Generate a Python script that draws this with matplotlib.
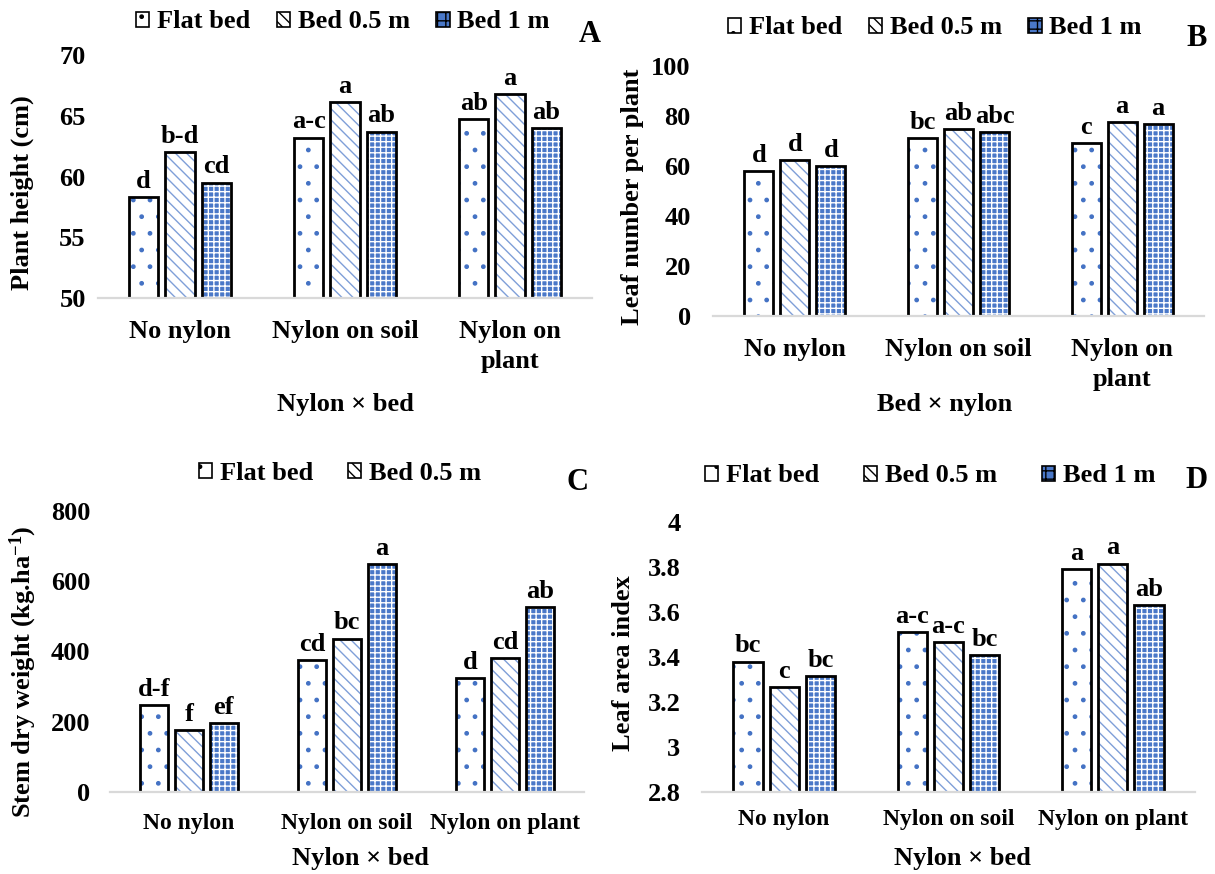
import numpy as np
import matplotlib
matplotlib.use("Agg")
import matplotlib.pyplot as plt
from matplotlib.patches import Patch

plt.rcParams['font.family'] = ['Liberation Serif', 'DejaVu Serif']
plt.rcParams['font.weight'] = 'bold'
plt.rcParams['mathtext.fontset'] = 'custom'
plt.rcParams['mathtext.rm'] = 'Liberation Serif:bold'
plt.rcParams['mathtext.bf'] = 'Liberation Serif:bold'
plt.rcParams['mathtext.it'] = 'Liberation Serif:bold:italic'

# data
series = ['Flat bed', 'Bed 0.5 m', 'Bed 1 m']
cats_wrap = ['No nylon', 'Nylon on soil', 'Nylon on\nplant']
cats_line = ['No nylon', 'Nylon on soil', 'Nylon on plant']

height_vals = [[58.3, 63.2, 64.7], [62.0, 66.1, 66.8], [59.5, 63.7, 64.0]]
height_lbls = [['d', 'a-c', 'ab'], ['b-d', 'a', 'a'], ['cd', 'ab', 'ab']]

leaf_vals = [[58.0, 71.3, 69.3], [62.2, 74.8, 77.6], [59.8, 73.5, 76.7]]
leaf_lbls = [['d', 'bc', 'c'], ['d', 'ab', 'a'], ['d', 'abc', 'a']]

stem_vals = [[248, 376, 324], [176, 437, 382], [197, 648, 527]]
stem_lbls = [['d-f', 'cd', 'd'], ['f', 'bc', 'cd'], ['ef', 'a', 'ab']]

lai_vals = [[3.38, 3.51, 3.79], [3.265, 3.465, 3.815], [3.315, 3.41, 3.63]]
lai_lbls = [['bc', 'a-c', 'a'], ['c', 'a-c', 'a'], ['bc', 'bc', 'ab']]

W, H = 1215, 874
FS = 19
BLUE = '#4472C4'

fig = plt.figure(figsize=(W / 100, H / 100), dpi=100)


def box(l, r, top, bottom):
    return [l / W, 1 - bottom / H, (r - l) / W, (bottom - top) / H]


def draw_bars(ax, x, vals, k):
    if k == 0:
        ax.bar(x, vals, 0.177, color='white', edgecolor=BLUE, hatch='.', linewidth=0)
    elif k == 1:
        ax.bar(x, vals, 0.177, color='white', edgecolor='#7F9FD8', hatch='\\\\\\', linewidth=0)
    else:
        ax.bar(x, vals, 0.177, color='#4A78C8', edgecolor='white', hatch='+++', linewidth=0)
    ax.bar(x, vals, 0.177, fill=False, edgecolor='black', linewidth=2)


def panel(rect, vals, lbls, cats, ylim, yticks, ylabs, ypad, xpad, xfs):
    ax = fig.add_axes(rect)
    x = np.arange(len(cats))
    for k in range(3):
        xs = x + (k - 1) * 0.22
        draw_bars(ax, xs, vals[k], k)
        for xi, v, t in zip(xs, vals[k], lbls[k]):
            ax.annotate(t, (xi, v), xytext=(0, 3), textcoords='offset points',
                        ha='center', va='bottom', fontsize=FS, fontweight='bold')
    ax.set_xlim(-0.5, 2.5)
    ax.set_ylim(*ylim)
    ax.set_yticks(yticks)
    ax.set_yticklabels(ylabs, fontsize=FS, fontweight='bold')
    ax.set_xticks(x)
    ax.set_xticklabels(cats, fontsize=xfs, fontweight='bold', linespacing=1.35)
    ax.tick_params(axis='y', length=0, pad=ypad)
    ax.tick_params(axis='x', length=0, pad=xpad)
    for s in ['left', 'right', 'top']:
        ax.spines[s].set_visible(False)
    ax.spines['bottom'].set_color('#D9D9D9')
    ax.spines['bottom'].set_linewidth(1.6)
    return ax


def legend(n, cx, cy, spacing):
    handles = []
    styles = [dict(facecolor='white', hatch='.'), dict(facecolor='white', hatch='\\\\\\'),
              dict(facecolor='#4A78C8', hatch='++')]
    for k in range(n):
        handles.append(Patch(edgecolor='black', linewidth=1.2, **styles[k]))
    fig.legend(handles, series[:n], loc='center', bbox_to_anchor=(cx / W, 1 - cy / H),
               ncol=n, frameon=False, prop=dict(size=FS, weight='bold'),
               handlelength=0.5, handleheight=0.5, handletextpad=0.3,
               columnspacing=spacing, borderaxespad=0)


plt.rcParams['hatch.linewidth'] = 1.0

panel(box(97.5, 592.5, 55, 298), height_vals, height_lbls, cats_wrap,
      (50, 70), [50, 55, 60, 65, 70], ['50', '55', '60', '65', '70'], 8.5, 16, FS)
panel(box(713, 1204, 66, 316), leaf_vals, leaf_lbls, cats_wrap,
      (0, 100), [0, 20, 40, 60, 80, 100], ['0', '20', '40', '60', '80', '100'], 16, 16, FS)
panel(box(110, 584, 511, 792), stem_vals, stem_lbls, cats_line,
      (0, 800), [0, 200, 400, 600, 800], ['0', '200', '400', '600', '800'], 14, 15, 17)
panel(box(702, 1195, 522, 792), lai_vals, lai_lbls, cats_line,
      (2.8, 4), [2.8, 3.0, 3.2, 3.4, 3.6, 3.8, 4.0],
      ['2.8', '3', '3.2', '3.4', '3.6', '3.8', '4'], 15.5, 12, 17)

legend(3, 343, 22, 1.0)
legend(3, 935, 28, 1.0)
legend(2, 340, 473, 1.3)
legend(3, 930, 476, 1.7)

for t, x, y in [('A', 590, 35), ('B', 1197, 38), ('C', 578, 482), ('D', 1196, 480)]:
    fig.text(x / W, 1 - y / H, t, ha='center', va='center', fontsize=22, fontweight='bold')

for t, x, y in [('Nylon × bed', 345, 405), ('Bed × nylon', 945, 405),
                ('Nylon × bed', 360, 858), ('Nylon × bed', 962, 858)]:
    fig.text(x / W, 1 - y / H, t, ha='center', va='center', fontsize=FS, fontweight='bold')

for t, x, y in [('Plant height (cm)', 22, 193), ('Leaf number per plant', 632, 197),
                (r'Stem dry weight (kg.ha$^{-1}$)', 23, 672), ('Leaf area index', 623, 663)]:
    fig.text(x / W, 1 - y / H, t, ha='center', va='center', rotation=90,
             fontsize=FS, fontweight='bold')

fig.savefig('out.png', dpi=100)
